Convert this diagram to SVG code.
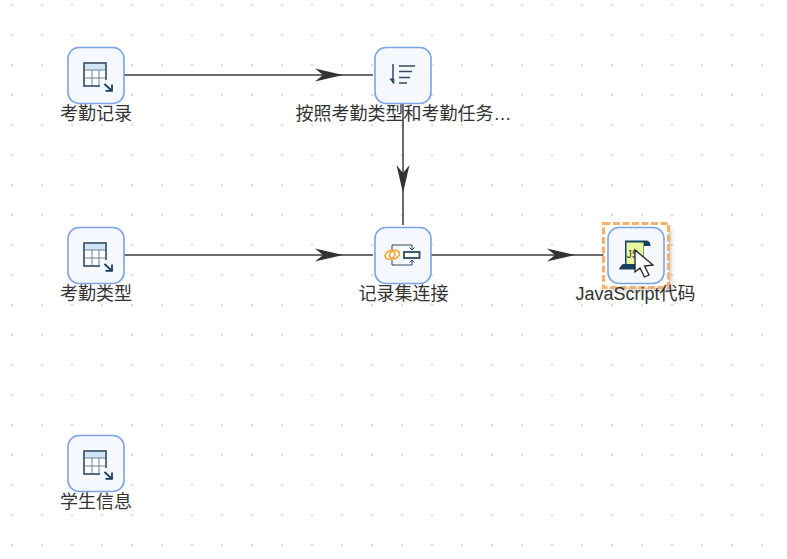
<svg xmlns="http://www.w3.org/2000/svg" width="787" height="559" viewBox="0 0 787 559">
<style>
.box{fill:#f5f8ff;stroke:#7ba3e6;stroke-width:1.6}
.lbl{font:18px "Liberation Sans","Noto Sans CJK SC",sans-serif;fill:#333;text-anchor:middle}
.edge{fill:none;stroke:#3a3a3a;stroke-width:1.5}
.ico{fill:none;stroke:#2f4a62;stroke-width:1}
</style>
<defs>
<pattern id="grid" x="11" y="4" width="30" height="30" patternUnits="userSpaceOnUse"><rect width="2" height="2" fill="#dcdcdc"/></pattern>
<filter id="soft" x="-20%" y="-20%" width="140%" height="140%"><feGaussianBlur stdDeviation="2.500"/></filter>
<path id="head" d="M0 0L-28 -6.500L-20 0L-28 6.500Z" fill="#333"/>
<g id="table">
<rect x="16" y="16" width="22" height="23" fill="#fff" stroke="#2f4a62" stroke-width="1.600"/>
<rect x="17" y="17" width="20" height="6" fill="#cfe5f3"/>
<path d="M17 23H37M17 31H37M24 23V38M31 23V38" stroke="#6f8496" fill="none"/>
<rect x="32" y="33" width="14" height="13" fill="#f5f8ff"/>
<path d="M36.500 37L43.500 43.500M44 37.500V43.800H37.500" stroke="#173f5f" stroke-width="1.800" fill="none"/>
</g>
</defs>
<rect width="787" height="559" fill="#fff"/>
<rect width="787" height="559" fill="url(#grid)"/>
<g id="connectors">
<path class="edge" d="M124 75H373"/><use href="#head" x="343" y="75"/>
<path class="edge" d="M403 103V225"/><use href="#head" transform="translate(403 193) rotate(90)"/>
<path class="edge" d="M124 255H373"/><use href="#head" x="343" y="255"/>
<path class="edge" d="M431 255H606"/><use href="#head" x="575" y="255"/>
</g>
<g id="node-attendance-record">
<rect class="box" x="68" y="47.500" width="56" height="56" rx="11"/>
<use href="#table" x="68" y="47"/>
<text class="lbl" x="96" y="120">考勤记录</text>
</g>
<g id="node-sort">
<rect class="box" x="375" y="47.500" width="56" height="56" rx="11"/>
<path d="M393 64V83" stroke="#2f4a62" stroke-width="1.500" fill="none"/>
<path d="M390 79H393.800V83.500Z" fill="#2f4a62" stroke="#2f4a62"/>
<path d="M399 66H415M399 71.500H412M399 77.500H410M399 83H407" stroke="#2f4a62" stroke-width="1.600" fill="none"/>
<text class="lbl" x="403.500" y="120">按照考勤类型和考勤任务…</text>
</g>
<g id="node-attendance-type">
<rect class="box" x="68" y="227.500" width="56" height="56" rx="11"/>
<use href="#table" x="68" y="227"/>
<text class="lbl" x="96" y="300">考勤类型</text>
</g>
<g id="node-join">
<rect class="box" x="375" y="227.500" width="56" height="56" rx="11"/>
<path class="ico" d="M392 250V245H412V250M392 260V265H412V260"/>
<path d="M409.500 247.500L412 250L414.500 247.500M409.500 262.500L412 260L414.500 262.500" fill="none" stroke="#2f4a62"/>
<ellipse cx="390" cy="255" rx="5" ry="4" transform="rotate(-30 390 255)" fill="none" stroke="#f2a93b" stroke-width="1.800"/>
<ellipse cx="394.500" cy="254.500" rx="5" ry="4" transform="rotate(-30 394.500 254.500)" fill="none" stroke="#f2a93b" stroke-width="1.800"/>
<rect x="404" y="252" width="15.500" height="6" fill="#fff" stroke="#2f4a62" stroke-width="1.800"/>
<text class="lbl" x="403.500" y="300">记录集连接</text>
</g>
<g id="node-javascript">
<rect x="609" y="230" width="62" height="60" fill="#888" opacity=".5" filter="url(#soft)"/>
<rect x="603.500" y="223.500" width="65" height="64" fill="#fff" stroke="#f3b271" stroke-width="3.200" stroke-dasharray="7 2.500"/>
<rect class="box" x="608" y="227.500" width="56" height="56" rx="11"/>
<path d="M625 240.500H646Q650.500 240.500 650.500 246H644V266H625Z" fill="#17425f"/>
<rect x="626.500" y="242.500" width="17" height="22" fill="#e8f7a0"/>
<path d="M619 269.500Q621 264 624 264H640V269.500Z" fill="#17425f"/>
<text x="632.500" y="258" font-family="'Liberation Sans',sans-serif" font-size="10" fill="#333" text-anchor="middle">JS</text>
<path d="M635 250V272L640 268L644.500 277L649 275L644.500 266L653 265Z" fill="#fff" stroke="#222" stroke-width="1.300"/>
<text class="lbl" x="635.500" y="300">JavaScript代码</text>
</g>
<g id="node-student">
<rect class="box" x="68" y="435.500" width="56" height="56" rx="11"/>
<use href="#table" x="68" y="435"/>
<text class="lbl" x="96" y="508">学生信息</text>
</g>
</svg>
